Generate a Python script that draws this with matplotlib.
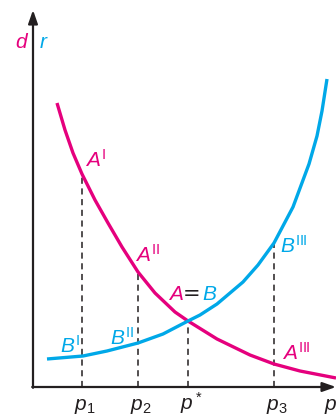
import numpy as np
import matplotlib
matplotlib.use("Agg")
import matplotlib.pyplot as plt

# supply (A, magenta) and demand (B, cyan) curves against price p
p_A = [2.4, 3.2, 4.0, 4.9, 6.2, 7.5, 8.9, 10.5, 12.2, 14.2, 15.5, 18.4, 21.7, 24.1, 26.7, 30.3]
val_A = [28.4, 25.7, 23.4, 21.3, 18.7, 16.4, 14.0, 11.5, 9.4, 7.5, 6.6, 4.8, 3.2, 2.3, 1.6, 0.9]

p_B = [1.4, 5.0, 7.4, 10.5, 13.0, 15.5, 16.7, 18.4, 21.0, 22.5, 24.1, 26.0, 27.6, 28.4, 28.9, 29.4]
val_B = [2.8, 3.1, 3.6, 4.4, 5.3, 6.6, 7.2, 8.3, 10.5, 12.2, 14.4, 18.0, 22.3, 25.1, 27.6, 30.8]

# marked prices and where each dashed guide stops
tick_p = [4.9, 10.5, 15.5, 24.1]
tick_top = [21.3, 11.5, 6.6, 14.3]
tick_labels = [r'$p_1$', r'$p_2$', r'$p^*$', r'$p_3$']

MAG = '#e5007d'
CYA = '#00a8e8'
INK = '#231f20'

plt.rcParams['mathtext.fontset'] = 'custom'
plt.rcParams['mathtext.it'] = 'Liberation Sans:italic'
plt.rcParams['mathtext.rm'] = 'Liberation Sans'
plt.rcParams['mathtext.sf'] = 'Liberation Sans'

fig = plt.figure(figsize=(3.36, 4.18), dpi=100)
ax = fig.add_axes([0, 0, 1, 1])
ax.set_xlim(-3.3, 30.3)
ax.set_ylim(-3.1, 38.7)
ax.axis('off')

# dashed guides from the curves down to the p axis
for x, top in zip(tick_p, tick_top):
    ax.plot([x, x], [0, top], color=INK, lw=1.1, dashes=(4, 3), zorder=1)

ax.plot(p_A, val_A, color=MAG, lw=2.4, solid_capstyle='butt',
        solid_joinstyle='round', zorder=3)
ax.plot(p_B, val_B, color=CYA, lw=2.4, solid_capstyle='butt',
        solid_joinstyle='round', zorder=3)

# axes with arrow heads
arrow = dict(arrowstyle='-|>,head_length=0.8,head_width=0.28', color=INK,
             lw=1.6, shrinkA=0, shrinkB=0)
ax.annotate('', xy=(0, 37.7), xytext=(0, -0.08), arrowprops=arrow, zorder=4)
ax.annotate('', xy=(30.3, 0), xytext=(-0.08, 0), arrowprops=arrow, zorder=4)

fs = 15
for x, lab in zip(tick_p, tick_labels):
    ax.text(x + 0.3, -2.3, lab, ha='center', va='baseline', fontsize=fs, color=INK)
ax.text(29.1, -2.3, r'$p$', ha='left', va='baseline', fontsize=fs, color=INK)

ax.text(-1.8, 33.9, r'$d$', ha='left', va='baseline', fontsize=fs, color=MAG)
ax.text(0.6, 33.9, r'$r$', ha='left', va='baseline', fontsize=fs, color=CYA)

ax.text(5.2, 22.0, r'$A^{\mathrm{I}}$', fontsize=fs, color=MAG, va='baseline')
ax.text(10.2, 12.5, r'$A^{\mathrm{II}}$', fontsize=fs, color=MAG, va='baseline')
ax.text(24.9, 2.7, r'$A^{\mathrm{III}}$', fontsize=fs, color=MAG, va='baseline')
ax.text(2.7, 3.4, r'$B^{\mathrm{I}}$', fontsize=fs, color=CYA, va='baseline')
ax.text(7.7, 4.2, r'$B^{\mathrm{II}}$', fontsize=fs, color=CYA, va='baseline')
ax.text(24.7, 13.4, r'$B^{\mathrm{III}}$', fontsize=fs, color=CYA, va='baseline')

# equilibrium label A=B in three colours
ax.text(13.5, 8.7, r'$A$', fontsize=fs, color=MAG, va='baseline')
ax.text(15.0, 8.7, '=', fontsize=fs, color=INK, va='baseline')
ax.text(16.9, 8.7, r'$B$', fontsize=fs, color=CYA, va='baseline')

fig.savefig('out.png', dpi=100)
